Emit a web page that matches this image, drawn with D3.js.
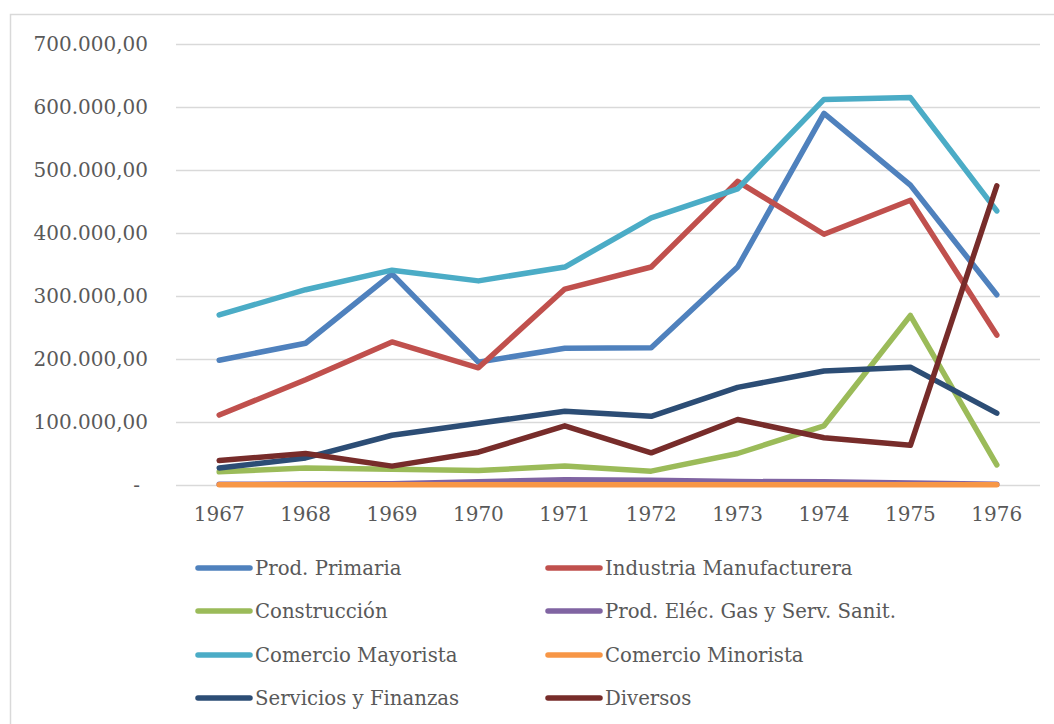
<!DOCTYPE html>
<html><head><meta charset="utf-8">
<script src="https://cdn.jsdelivr.net/npm/d3@7"></script>
<style>
html,body{margin:0;padding:0;background:#fff;}
svg text{font-family:"DejaVu Serif",serif;fill:#595959;}
</style></head>
<body>
<svg id="c" width="1054" height="724"></svg>
<script>
const years = ["1967","1968","1969","1970","1971","1972","1973","1974","1975","1976"];
const yTicks = [0,100000,200000,300000,400000,500000,600000,700000];
const seriesNames = ["Prod. Primaria","Industria Manufacturera","Construcción","Prod. Eléc. Gas y Serv. Sanit.","Comercio Mayorista","Comercio Minorista","Servicios y Finanzas","Diversos"];
const prodPrimaria   = [198000,225000,335000,195000,217000,218000,346000,590000,476000,302000];
const industria      = [111000,167000,227000,186000,311000,346000,482000,398000,452000,238000];
const construccion   = [21000,27000,25000,23000,30000,22000,50000,94000,269000,32000];
const prodElec       = [1000,1500,2000,5000,8500,7500,5500,5000,3000,1000];
const comMayorista   = [270000,310000,341000,324000,346000,424000,470000,612000,615000,435000];
const comMinorista   = [500,500,500,500,500,500,500,500,500,500];
const servicios      = [27000,43000,79000,98000,117000,109000,155000,181000,187000,114000];
const diversos       = [39000,50000,30000,52000,94000,51000,104000,75000,63000,475000];
const seriesValues = [prodPrimaria,industria,construccion,prodElec,comMayorista,comMinorista,servicios,diversos];
const colors = ["#4F81BD","#C0504D","#9BBB59","#8064A2","#4BACC6","#F79646","#2C4D75","#772C2A"];

const svg = d3.select("#c");
// outer border
svg.append("rect").attr("x",10.5).attr("y",14.5).attr("width",1060).attr("height",720)
  .attr("fill","none").attr("stroke","#D9D9D9").attr("stroke-width",1.5);

const x = d3.scaleBand().domain(years).range([176,1040]);
const y = d3.scaleLinear().domain([0,700000]).range([485,44]);

const fmt = v => v===0 ? "-" : d3.format(",.2f")(v).replace(/,/g,"#").replace(/\./g,",").replace(/#/g,".");

// gridlines
svg.append("g").selectAll("line").data(yTicks).join("line")
  .attr("x1",176).attr("x2",1040).attr("y1",d=>Math.round(y(d))+0.5).attr("y2",d=>Math.round(y(d))+0.5)
  .attr("stroke","#D9D9D9").attr("stroke-width",1.5);

const yAxis = d3.axisLeft(y).tickValues(yTicks).tickFormat(fmt).tickSize(0).tickPadding(0);
const gy = svg.append("g").attr("transform","translate(148,0)").call(yAxis);
gy.select(".domain").remove();
gy.selectAll("text").attr("font-size",20).style("font-family","DejaVu Serif").attr("fill","#595959").attr("dy","0.3em");
gy.selectAll("text").filter(d=>d===0).attr("dx",-8);

const xAxis = d3.axisBottom(x).tickSize(0).tickPadding(0);
const gx = svg.append("g").attr("transform","translate(0,507)").call(xAxis);
gx.select(".domain").remove();
gx.selectAll("text").attr("font-size",20).style("font-family","DejaVu Serif").attr("fill","#595959").attr("dy","0.71em");

const line = d3.line().x((d,i)=>x(years[i])+x.bandwidth()/2).y(d=>y(d));
svg.append("g").selectAll("path").data(seriesValues).join("path")
  .attr("d",d=>line(d)).attr("fill","none").attr("stroke",(d,i)=>colors[i])
  .attr("stroke-width",5.5).attr("stroke-linejoin","round").attr("stroke-linecap","round");

// legend
const legX = [198,548], legY = [568,611,655,698];
const lg = svg.append("g").selectAll("g").data(seriesNames).join("g")
  .attr("transform",(d,i)=>`translate(${legX[i%2]},${legY[Math.floor(i/2)]})`);
lg.append("line").attr("x1",0).attr("x2",52).attr("y1",0).attr("y2",0)
  .attr("stroke",(d,i)=>colors[i]).attr("stroke-width",5.5).attr("stroke-linecap","round");
lg.append("text").attr("x",57).attr("y",0).attr("dy","0.35em").attr("font-size",19.7)
  .style("font-family","DejaVu Serif").attr("fill","#595959").text(d=>d);
</script>
</body></html>
